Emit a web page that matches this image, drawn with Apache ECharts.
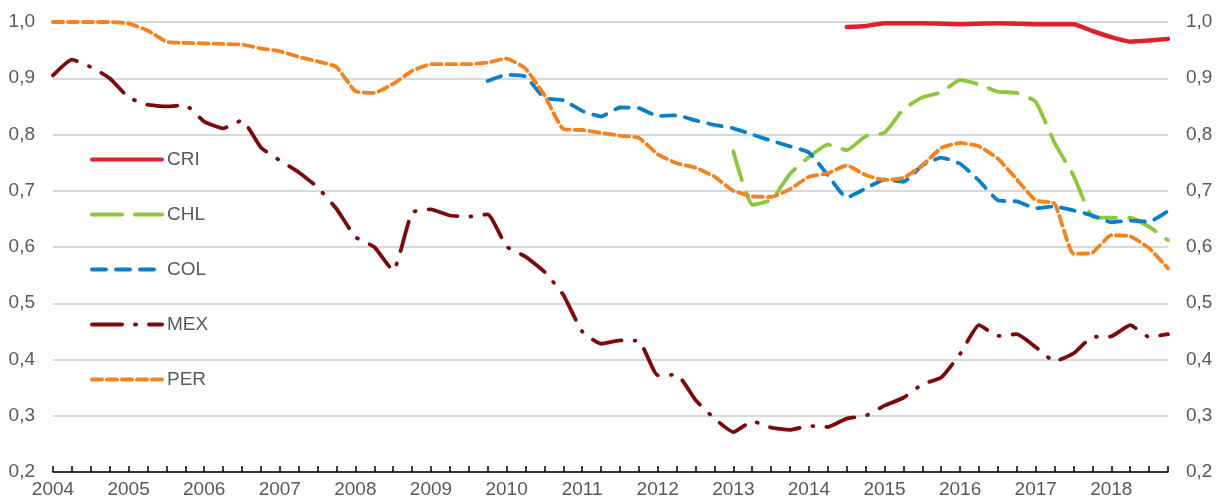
<!DOCTYPE html>
<html>
<head>
<meta charset="utf-8">
<script src="https://cdn.jsdelivr.net/npm/echarts@6/dist/echarts.min.js"></script>
<style>
html,body{margin:0;padding:0;background:#fff;}
#chart{width:1218px;height:499px;}
</style>
</head>
<body>
<div id="chart"></div>
<script>
// Quarterly categories 2004Q1 .. 2018Q4
const quarters = [];
for (let y = 2004; y <= 2018; y++) { for (let q = 1; q <= 4; q++) quarters.push(y + '-T' + q); }

const seriesNames = ['CRI', 'CHL', 'COL', 'MEX', 'PER'];

const CRI = [null,null,null,null,null,null,null,null,null,null,
 null,null,null,null,null,null,null,null,null,null,
 null,null,null,null,null,null,null,null,null,null,
 null,null,null,null,null,null,null,null,null,null,
 null,null,0.991,0.993,0.998,0.998,0.998,0.997,0.996,0.997,
 0.998,0.997,0.996,0.996,0.996,0.984,0.973,0.965,0.967,0.970];

const CHL = [null,null,null,null,null,null,null,null,null,null,
 null,null,null,null,null,null,null,null,null,null,
 null,null,null,null,null,null,null,null,null,null,
 null,null,null,null,null,null,0.770,0.675,0.684,0.730,
 0.760,0.782,0.772,0.797,0.803,0.845,0.866,0.875,0.897,0.889,
 0.876,0.874,0.858,0.785,0.727,0.654,0.652,0.652,0.636,0.612];

const COL = [null,null,null,null,null,null,null,null,null,null,
 null,null,null,null,null,null,null,null,null,null,
 null,null,null,0.895,0.906,0.903,0.865,0.861,0.842,0.832,
 0.848,0.847,0.833,0.834,0.825,0.817,0.811,0.800,0.789,0.779,
 0.768,0.728,0.688,0.704,0.720,0.716,0.745,0.759,0.748,0.718,
 0.683,0.681,0.669,0.672,0.665,0.656,0.644,0.647,0.645,0.664];

const MEX = [0.905,0.933,0.920,0.900,0.866,0.853,0.850,0.852,0.823,0.811,
 0.825,0.777,0.754,0.733,0.706,0.668,0.618,0.600,0.558,0.661,
 0.667,0.656,0.654,0.658,0.601,0.583,0.556,0.515,0.450,0.428,
 0.434,0.433,0.372,0.373,0.328,0.295,0.271,0.290,0.279,0.275,
 0.282,0.280,0.295,0.300,0.318,0.332,0.356,0.368,0.410,0.461,
 0.442,0.445,0.422,0.397,0.411,0.440,0.441,0.461,0.440,0.445];

const PER = [1.000,1.000,1.000,1.000,0.997,0.985,0.965,0.963,0.962,0.961,
 0.960,0.953,0.948,0.938,0.930,0.920,0.877,0.874,0.890,0.913,
 0.925,0.925,0.925,0.928,0.935,0.917,0.870,0.810,0.808,0.803,
 0.798,0.794,0.765,0.749,0.741,0.725,0.700,0.690,0.689,0.703,
 0.725,0.731,0.745,0.728,0.719,0.723,0.745,0.776,0.785,0.779,
 0.757,0.720,0.683,0.677,0.588,0.590,0.621,0.619,0.598,0.562];

const yTicks = [0.2, 0.3, 0.4, 0.5, 0.6, 0.7, 0.8, 0.9, 1.0];

const FONT = '"Liberation Sans Narrow", "Liberation Sans", sans-serif';
const FS = 19;
const textColor = '#595959';

const styles = {
  CRI: {color: '#E0202A', width: 4.5, type: 'solid'},
  CHL: {color: '#8DC63F', width: 3.8, type: [30, 13]},
  COL: {color: '#0A7EC8', width: 3.8, type: [14, 10]},
  MEX: {color: '#7B0A0A', width: 3.8, type: [30, 13, 1, 13]},
  PER: {color: '#F58220', width: 3.8, type: [10, 5]}
};
const dataMap = {CRI, CHL, COL, MEX, PER};

const yAxisCommon = {
  type: 'value', min: yTicks[0], max: yTicks[yTicks.length - 1], interval: 0.1,
  axisLine: {show: false}, axisTick: {show: false},
  axisLabel: {
    color: textColor, fontFamily: FONT, fontSize: FS, margin: 18,
    formatter: v => v.toFixed(1).replace('.', ',')
  }
};

const option = {
  animation: false,
  backgroundColor: '#ffffff',
  grid: {left: 53, right: 50, top: 22, bottom: 26, containLabel: false},
  legend: {
    orient: 'vertical', left: 85, top: 145,
    itemWidth: 70, itemHeight: 14, itemGap: 36,
    itemStyle: {opacity: 0},
    lineStyle: {width: 4, cap: 'round'},
    textStyle: {color: textColor, fontFamily: FONT, fontSize: FS},
    data: seriesNames
  },
  xAxis: {
    type: 'category', data: quarters, boundaryGap: false,
    axisLine: {lineStyle: {color: '#000', width: 1.5}},
    axisTick: {show: true, inside: true, length: 6, interval: 0, lineStyle: {color: '#000', width: 1.5}},
    axisLabel: {
      color: textColor, fontFamily: FONT, fontSize: FS, margin: 8, interval: 3,
      formatter: v => v.split('-')[0]
    },
    splitLine: {show: false}
  },
  yAxis: [
    Object.assign({}, yAxisCommon, {position: 'left', splitLine: {show: true, lineStyle: {color: '#d9d9d9', width: 2}}}),
    Object.assign({}, yAxisCommon, {position: 'right', splitLine: {show: false}})
  ],
  series: seriesNames.map(n => ({
    name: n, type: 'line', yAxisIndex: 0, data: dataMap[n],
    symbol: 'none', showSymbol: false, smooth: 0.15, connectNulls: false,
    lineStyle: {color: styles[n].color, width: styles[n].width, type: styles[n].type, cap: 'round', join: 'round'},
    itemStyle: {color: styles[n].color}
  }))
};

const chart = echarts.init(document.getElementById('chart'), null, {renderer: 'canvas'});
chart.setOption(option);
</script>
</body>
</html>
